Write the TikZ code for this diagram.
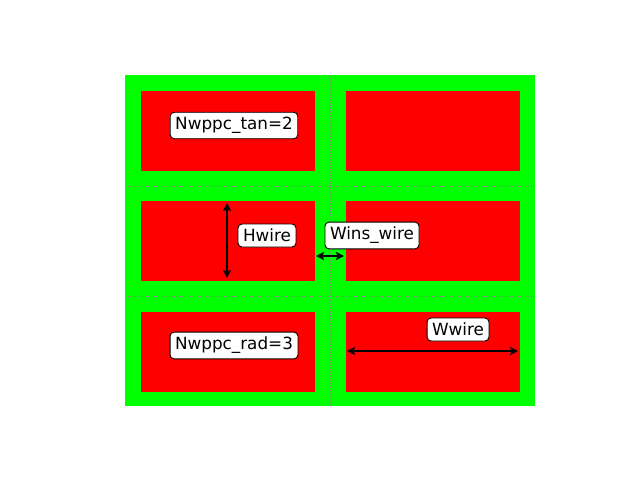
\documentclass[tikz,border=0pt]{standalone}
\usepackage{fontspec}
\setmainfont{DejaVu Sans}
\usetikzlibrary{arrows.meta}
\begin{document}
\begin{tikzpicture}[x=1pt, y=-1pt,
    wire/.style={fill=red},
    grid/.style={gray, line width=0.6pt, dash pattern=on 1pt off 1.6pt},
    lab/.style={draw=black, fill=white, rounded corners=4pt, line width=0.9pt,
      inner xsep=5pt, inner ysep=5pt, font=\fontsize{16.8}{19}\selectfont},
    dim/.style={<->, >={Stealth[length=8pt, width=8pt, inset=1.5pt]}, line width=2.2pt}
  ]
    \useasboundingbox (0,0) rectangle (640,480);
    % insulation and wires
    \fill[green] (125,75) rectangle (535,406);
    \foreach \x in {141,346}
      \foreach \y in {91,201,312}
        \fill[wire] (\x,\y) rectangle ++(174,80);
    % cell boundaries
    \draw[grid] (330,75) -- (330,406);
    \draw[grid] (125,186) -- (535,186);
    \draw[grid] (125,296) -- (535,296);
    % dimension arrows
    \coordinate (htop) at (227,203);
    \coordinate (hbot) at (227,278);
    \coordinate (wl) at (316,256);
    \coordinate (wr) at (344,256);
    \coordinate (ww1) at (347,351);
    \coordinate (ww2) at (518,351);
    \draw[dim] (htop) -- (hbot);
    \draw[dim] (wl) -- (wr);
    \draw[dim] (ww1) -- (ww2);
    % labels
    \node[lab] (ntan) at (234,125.5) {Nwppc\_tan=2};
    \node[lab] (hwire) at (267,235.5) {Hwire};
    \node[lab] (wins) at (372,235.5) {Wins\_wire};
    \node[lab] (nrad) at (234,345.5) {Nwppc\_rad=3};
    \node[lab] (wwire) at (458,329.5) {Wwire};
\end{tikzpicture}
\end{document}
